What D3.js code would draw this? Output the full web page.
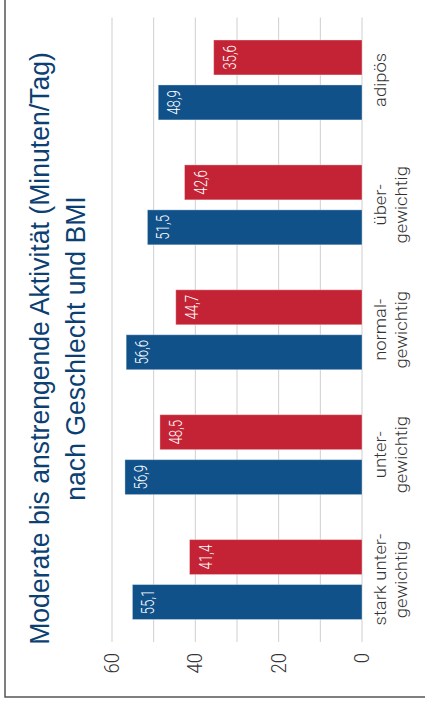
<!DOCTYPE html>
<html>
<head>
<meta charset="utf-8">
<script src="https://cdn.jsdelivr.net/npm/d3@7"></script>
<style>
  html, body { margin: 0; padding: 0; background: #fff; }
  svg { display: block; }
  text { font-family: "Liberation Sans", Arial, Helvetica, sans-serif; }
  .light { font-family: Roboto, "Liberation Sans", Arial, sans-serif; font-weight: 300; }
</style>
</head>
<body>
<svg id="chart" width="425" height="708"></svg>
<script>
// Moderate to vigorous activity (minutes per day) by sex and BMI group
const titleLines = ["Moderate bis anstrengende Aktivität (Minuten/Tag)", "nach Geschlecht und BMI"];
const categories = [
  ["stark unter-", "gewichtig"],
  ["unter-", "gewichtig"],
  ["normal-", "gewichtig"],
  ["über-", "gewichtig"],
  ["adipös"]
];
const seriesNames = ["Jungen", "Mädchen"];
const jungen = [55.1, 56.9, 56.6, 51.5, 48.9];
const maedchen = [41.4, 48.5, 44.7, 42.6, 35.6];
const tickLabels = [0, 20, 40, 60];
const gridValues = [0, 10, 20, 30, 40, 50, 60];
const colors = ["#10518a", "#c32334"];

const W = 708, H = 425; // chart drawn landscape, then turned onto the page
const svg = d3.select("#chart");
const g = svg.append("g").attr("transform", `translate(0,${W}) rotate(-90)`);

const fmt = v => d3.format(".1f")(v).replace(".", ",");

// frame
g.append("rect")
  .attr("x", 11).attr("y", 5)
  .attr("width", W + 20).attr("height", H + 20)
  .attr("fill", "none").attr("stroke", "#555").attr("stroke-width", 1.5);

const x0 = d3.scaleBand()
  .domain(d3.range(categories.length))
  .range([66, 690.5])
  .paddingInner(0.36)
  .paddingOuter(0.18);

const x1 = d3.scaleBand()
  .domain(seriesNames)
  .range([0, x0.bandwidth()])
  .paddingInner(10 / 45);

const y = d3.scaleLinear().domain([0, 60]).range([362, 112]);

// grid
g.append("g").selectAll("line").data(gridValues).join("line")
  .attr("x1", 66).attr("x2", 690.5)
  .attr("y1", d => y(d)).attr("y2", d => y(d))
  .attr("stroke", "#cfcfcf").attr("stroke-width", 1);

// value axis labels
g.append("g").selectAll("text").data(tickLabels).join("text")
  .attr("class", "light")
  .attr("transform", d => `translate(55,${y(d)}) scale(0.95,1)`)
  .attr("text-anchor", "end")
  .attr("dy", "0.36em")
  .attr("font-size", 19.5)
  .attr("fill", "#333")
  .text(d => d);

// bars
const rows = categories.map((c, i) => ({ i, values: [jungen[i], maedchen[i]] }));
const groups = g.append("g").selectAll("g").data(rows).join("g")
  .attr("transform", d => `translate(${x0(d.i)},0)`);

const cells = groups.selectAll("g").data(d => d.values.map((v, k) => ({ v, k }))).join("g");

cells.append("rect")
  .attr("x", d => x1(seriesNames[d.k]))
  .attr("width", x1.bandwidth())
  .attr("y", d => y(d.v))
  .attr("height", d => y(0) - y(d.v))
  .attr("fill", d => colors[d.k])
  .attr("stroke", "rgba(255,255,255,0.35)")
  .attr("stroke-width", 1);

cells.append("text")
  .attr("class", "light")
  .attr("transform", d => `translate(${x1(seriesNames[d.k]) + x1.bandwidth() / 2},${y(d.v) + 22}) scale(0.72,1)`)
  .attr("text-anchor", "middle")
  .attr("font-size", 18.5)
  .attr("fill", "#fff")
  .text(d => fmt(d.v));

// category labels
const catG = g.append("g").selectAll("g").data(categories).join("g")
  .attr("transform", (d, i) => `translate(${x0(i) + x0.bandwidth() / 2},0)`);
catG.selectAll("text").data(d => d).join("text")
  .attr("class", "light")
  .attr("transform", (d, j) => `translate(0,${386 + j * 20.5}) scale(1.08,1)`)
  .attr("text-anchor", "middle")
  .attr("font-size", 17)
  .attr("fill", "#333")
  .text(d => d);

// title
g.append("g").selectAll("text").data(titleLines).join("text")
  .attr("transform", (d, i) => `translate(359.5,${48.5 + i * 36.5}) scale(0.95,1)`)
  .attr("text-anchor", "middle")
  .attr("font-size", 28)
  .attr("fill", "#0c3f72")
  .text(d => d);
</script>
</body>
</html>
